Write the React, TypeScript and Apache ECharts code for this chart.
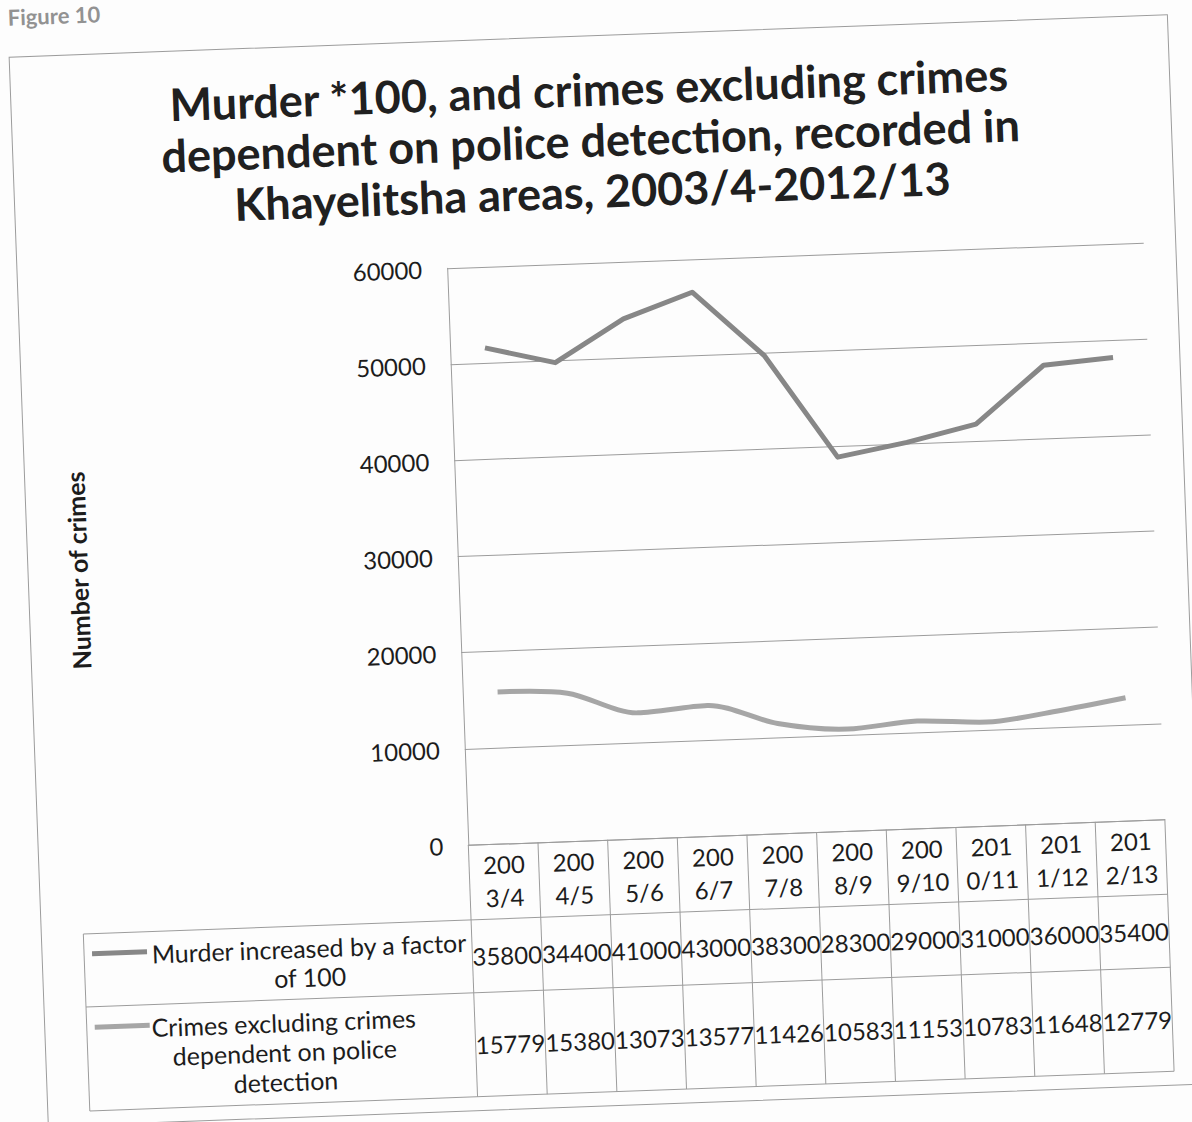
import React, { useEffect, useRef } from "react";
import * as echarts from "echarts";

// ---------- data ----------
const categories = ["2003/4", "2004/5", "2005/6", "2006/7", "2007/8", "2008/9", "2009/10", "2010/11", "2011/12", "2012/13"];
const murderX100 = [35800, 34400, 41000, 43000, 38300, 28300, 29000, 31000, 36000, 35400];
const crimesExcl = [15779, 15380, 13073, 13577, 11426, 10583, 11153, 10783, 11648, 12779];
const murderName = "Murder increased by a factor of 100";
const crimesName = "Crimes excluding crimes dependent on police detection";
const murderLabelLines = ["Murder increased by a factor", "of 100"];
const crimesLabelLines = ["Crimes excluding crimes", "dependent on police", "detection"];
const titleLines = [
  "Murder *100, and crimes excluding crimes",
  "dependent on police detection, recorded in",
  "Khayelitsha areas, 2003/4-2012/13",
];
const yAxisTitle = "Number of crimes";
const figureLabel = "Figure 10";
const yMin = 0;
const yMax = 60000;
const yStep = 10000;

// ---------- layout / style ----------
const OX = 30;
const OY = 30;
const ROT = 2.1;
const FONT = 'Lato, "Noto Sans", sans-serif';
const LINE = "#9c9c9c";
const TEXT = "#1c1c1c";
const MURDER_COLOR = "#878787";
const CRIMES_COLOR = "#a6a6a6";
const GRID = { left: 458, top: 263, width: 697, height: 577 };
const ROW_CAT = 75;
const ROW_MUR = 73;
const ROW_CRI = 104;
const LEG_LEFT = 70;
const NUM_SIZE = 24;
const LEG_SIZE = 25;

const P = (x: number) => x + OX;
const Q = (y: number) => y + OY;

export default function App() {
  const ref = useRef<HTMLDivElement>(null);

  useEffect(() => {
    const el = ref.current;
    if (!el) return;
    const chart = echarts.init(el, null, { renderer: "svg" });

    chart.setOption({
      animation: false,
      backgroundColor: "transparent",
      textStyle: { fontFamily: FONT },
      grid: { left: P(GRID.left), top: Q(GRID.top), width: GRID.width, height: GRID.height, containLabel: false },
      xAxis: {
        type: "category",
        data: categories,
        boundaryGap: true,
        axisLine: { show: true, lineStyle: { color: LINE, width: 1 } },
        axisTick: { show: false },
        axisLabel: {
          interval: 0,
          margin: 4,
          fontSize: NUM_SIZE,
          lineHeight: 33,
          color: TEXT,
          fontFamily: FONT,
          formatter: (v: string) => v.slice(0, 3) + "\n" + v.slice(3),
        },
        splitLine: { show: false },
      },
      yAxis: {
        type: "value",
        min: yMin,
        max: yMax,
        interval: yStep,
        axisLine: { show: true, lineStyle: { color: LINE, width: 1 } },
        axisTick: { show: false },
        axisLabel: {
          margin: 25,
          fontSize: NUM_SIZE,
          color: TEXT,
          fontFamily: FONT,
          formatter: (v: number) => String(v),
        },
        splitLine: { show: true, lineStyle: { color: LINE, width: 1 } },
      },
      series: [
        {
          name: crimesName,
          type: "line",
          stack: "total",
          data: crimesExcl,
          smooth: 0.3,
          showSymbol: false,
          lineStyle: { color: CRIMES_COLOR, width: 5 },
          itemStyle: { color: CRIMES_COLOR },
        },
        {
          name: murderName,
          type: "line",
          stack: "total",
          data: murderX100,
          smooth: false,
          showSymbol: false,
          lineStyle: { color: MURDER_COLOR, width: 5, join: "round" },
          itemStyle: { color: MURDER_COLOR },
        },
      ],
    });

    const n = categories.length;
    const xC = categories.map((_, i) => chart.convertToPixel({ xAxisIndex: 0 }, i) as number);
    const band = xC[1] - xC[0];
    const xL = xC[0] - band / 2;
    const xR = xC[n - 1] + band / 2;
    const y0 = chart.convertToPixel({ yAxisIndex: 0 }, 0) as number;
    const yCatB = y0 + ROW_CAT;
    const yMurB = yCatB + ROW_MUR;
    const yCriB = yMurB + ROW_CRI;
    const xLeg = P(LEG_LEFT);
    const ls = { stroke: LINE, lineWidth: 1 };

    const graphic: any[] = [];
    // title
    graphic.push({
      type: "text",
      x: P(606),
      y: Q(63.5),
      style: {
        text: titleLines.join("\n"),
        align: "center",
        verticalAlign: "top",
        fontSize: 45,
        fontWeight: "bold",
        fontFamily: FONT,
        lineHeight: 51,
        fill: "#202020",
      },
    });
    // y axis title
    graphic.push({
      type: "text",
      x: P(78),
      y: (Q(GRID.top) + y0) / 2,
      rotation: Math.PI / 2,
      style: {
        text: yAxisTitle,
        align: "center",
        verticalAlign: "middle",
        fontSize: 25,
        fontWeight: "bold",
        fontFamily: FONT,
        fill: TEXT,
      },
    });
    // figure label
    graphic.push({
      type: "text",
      x: P(28),
      y: Q(-4),
      style: {
        text: figureLabel,
        align: "left",
        verticalAlign: "middle",
        fontSize: 22,
        fontWeight: "bold",
        fontFamily: FONT,
        fill: "#929292",
      },
    });
    // outer border
    graphic.push({
      type: "rect",
      shape: { x: P(28), y: Q(36), width: 1187 - 28, height: 1106 - 36 },
      style: { fill: "none", stroke: LINE, lineWidth: 1 },
    });
    // table horizontal lines
    [yCatB, yMurB, yCriB].forEach((y) => {
      graphic.push({ type: "line", shape: { x1: xLeg, y1: y, x2: xR, y2: y }, style: ls });
    });
    // table vertical lines
    graphic.push({ type: "line", shape: { x1: xLeg, y1: yCatB, x2: xLeg, y2: yCriB }, style: ls });
    for (let i = 0; i <= n; i++) {
      const x = xL + i * band;
      graphic.push({ type: "line", shape: { x1: x, y1: y0, x2: x, y2: yCriB }, style: ls });
    }
    // legend keys
    const rowMurC = (yCatB + yMurB) / 2;
    const rowCriC = (yMurB + yCriB) / 2;
    const murLH = 29;
    const criLH = 29.5;
    const murFirst = rowMurC - (murderLabelLines.length - 1) * murLH / 2;
    const criFirst = rowCriC - (crimesLabelLines.length - 1) * criLH / 2;
    graphic.push({
      type: "line",
      shape: { x1: P(78), y1: murFirst - 2, x2: P(133), y2: murFirst - 2 },
      style: { stroke: MURDER_COLOR, lineWidth: 5 },
    });
    graphic.push({
      type: "line",
      shape: { x1: P(78), y1: criFirst - 2, x2: P(133), y2: criFirst - 2 },
      style: { stroke: CRIMES_COLOR, lineWidth: 5 },
    });
    graphic.push({
      type: "text",
      x: P(295),
      y: rowMurC,
      style: {
        text: murderLabelLines.join("\n"),
        align: "center",
        verticalAlign: "middle",
        fontSize: LEG_SIZE,
        lineHeight: murLH,
        fontFamily: FONT,
        fill: TEXT,
      },
    });
    graphic.push({
      type: "text",
      x: P(267),
      y: rowCriC,
      style: {
        text: crimesLabelLines.join("\n"),
        align: "center",
        verticalAlign: "middle",
        fontSize: LEG_SIZE,
        lineHeight: criLH,
        fontFamily: FONT,
        fill: TEXT,
      },
    });
    // values
    murderX100.forEach((v, i) => {
      graphic.push({
        type: "text",
        x: xC[i],
        y: rowMurC,
        style: { text: String(v), align: "center", verticalAlign: "middle", fontSize: NUM_SIZE, fontFamily: FONT, fill: TEXT },
      });
    });
    crimesExcl.forEach((v, i) => {
      graphic.push({
        type: "text",
        x: xC[i],
        y: rowCriC,
        style: { text: String(v), align: "center", verticalAlign: "middle", fontSize: NUM_SIZE, fontFamily: FONT, fill: TEXT },
      });
    });

    chart.setOption({ graphic });

    return () => chart.dispose();
  }, []);

  return (
    <div
      style={{
        position: "fixed",
        left: 0,
        top: 0,
        width: 1192,
        height: 1122,
        overflow: "hidden",
        background: "#fdfdfd",
      }}
    >
      <div
        ref={ref}
        style={{
          position: "absolute",
          left: -OX,
          top: -OY,
          width: 1192 + 2 * OX,
          height: 1122 + 2 * OY,
          transform: `rotate(${-ROT}deg)`,
          transformOrigin: "50% 50%",
        }}
      />
    </div>
  );
}
